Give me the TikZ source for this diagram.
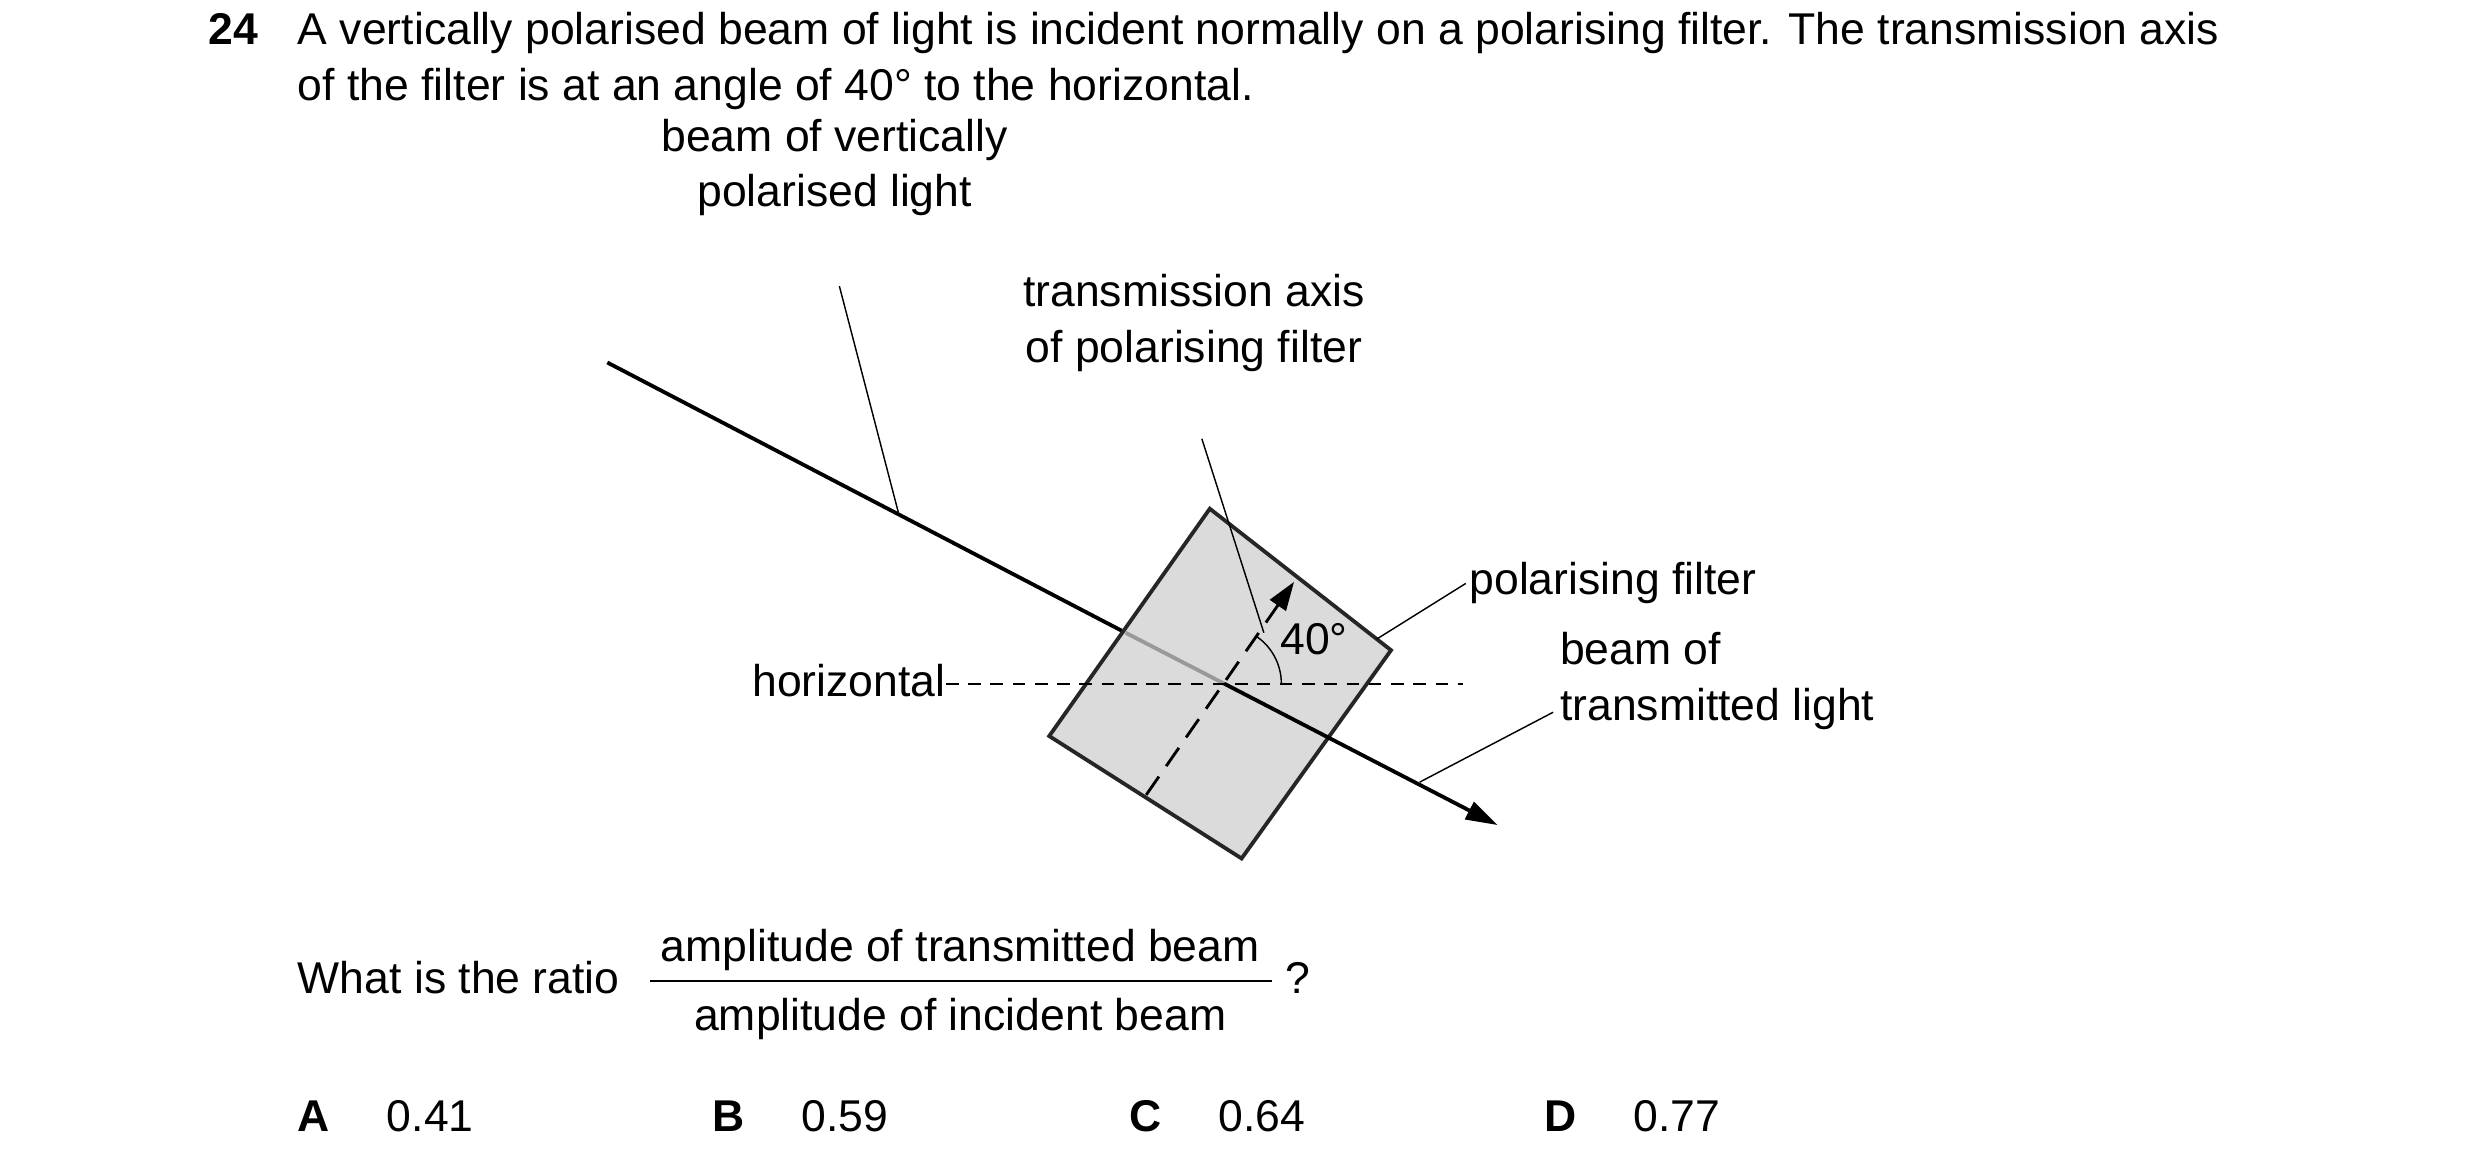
\documentclass[tikz,border=0pt]{standalone}
\usepackage{fontspec}
\setmainfont{Liberation Sans}
\usetikzlibrary{arrows.meta,calc}
\begin{document}
\begin{tikzpicture}[x=0.5pt,y=-0.5pt,
  txt/.style={inner sep=0pt,font=\fontsize{14}{17.5}\selectfont},
  lead/.style={line width=0.45pt},
  beam/.style={line width=1.2pt},
  dsh/.style={line width=0.6pt,dash pattern=on 4pt off 3pt}]
\useasboundingbox (0,0) rectangle (1560,734);
% header
\node[txt,anchor=base west,font=\fontsize{14}{17.5}\selectfont\bfseries] (num) at (131,28) {24};
\node[txt,anchor=base west] (l1) at (187,28) {A vertically polarised beam of light is incident normally on a polarising filter. The transmission axis};
\node[txt,anchor=base west] (l2) at (187,63) {of the filter is at an angle of 40\textdegree\ to the horizontal.};
% filter
\coordinate (ft) at (761,320); \coordinate (fr) at (875,409);
\coordinate (fb) at (781,540); \coordinate (fl) at (660,463);
\coordinate (c) at (770,430);
\coordinate (bs) at (382,228); \coordinate (be) at (942,519);
\coordinate (edge) at (708,398);
\draw[beam] (bs) -- (edge);
\filldraw[fill=black!14,draw=black!85,line width=1.2pt] (ft) -- (fr) -- (fb) -- (fl) -- cycle;
\draw[beam,black!40] (edge) -- (c);
\draw[beam,-{Triangle[length=10pt,width=6pt]}] (c) -- (be);
% horizontal
\coordinate (hr) at (920,430);
\node[txt,anchor=base east] (hor) at (595,438) {horizontal};
\draw[dsh] (hor.east |- c) -- (hr);
% axis
\coordinate (ab) at (721,500); \coordinate (at) at (814,366);
\draw[line width=0.9pt,dash pattern=on 7pt off 4pt] (ab) -- ($(c)!0.85!(at)$);
\draw[line width=0.9pt,-{Triangle[length=9pt,width=6pt]}] ($(c)!0.8!(at)$) -- (at);
\draw[lead] (806,430) arc[start angle=0,end angle=-55,radius=36];
\node[txt,anchor=base west] (ang) at (805,412) {40\textdegree};
% labels
\node[txt,align=center,anchor=base] (lb) at (525,130) {beam of vertically\\polarised light};
\draw[lead] (528,180) -- (565,322);
\node[txt,align=center,anchor=base] (lt) at (751,228) {transmission axis\\of polarising filter};
\draw[lead] (756,276) -- (795,398);
\node[txt,anchor=base west] (lp) at (924,374) {polarising filter};
\draw[lead] (866,402) -- (922,367);
\node[txt,anchor=base west,align=left] (lbt) at (981,453) {beam of\\transmitted light};
\draw[lead] (893,492) -- (977,448);
% question
\node[txt,anchor=base west] (q) at (187,625) {What is the ratio};
\node[txt,anchor=base] (num2) at (604,605) {amplitude of transmitted beam};
\node[txt,anchor=base] (den) at (604,648) {amplitude of incident beam};
\draw[line width=0.5pt] (409,617) -- (800,617);
\node[txt,anchor=base west] (qm) at (808,625) {?};
\foreach \l/\v/\x in {A/0.41/187,B/0.59/448,C/0.64/710,D/0.77/971}{
  \node[txt,anchor=base west,font=\fontsize{14}{17.5}\selectfont\bfseries] (o\l) at (\x,712) {\l};
  \node[txt,anchor=base west] (v\l) at (\x+56,712) {\v};
}
\end{tikzpicture}
\end{document}
